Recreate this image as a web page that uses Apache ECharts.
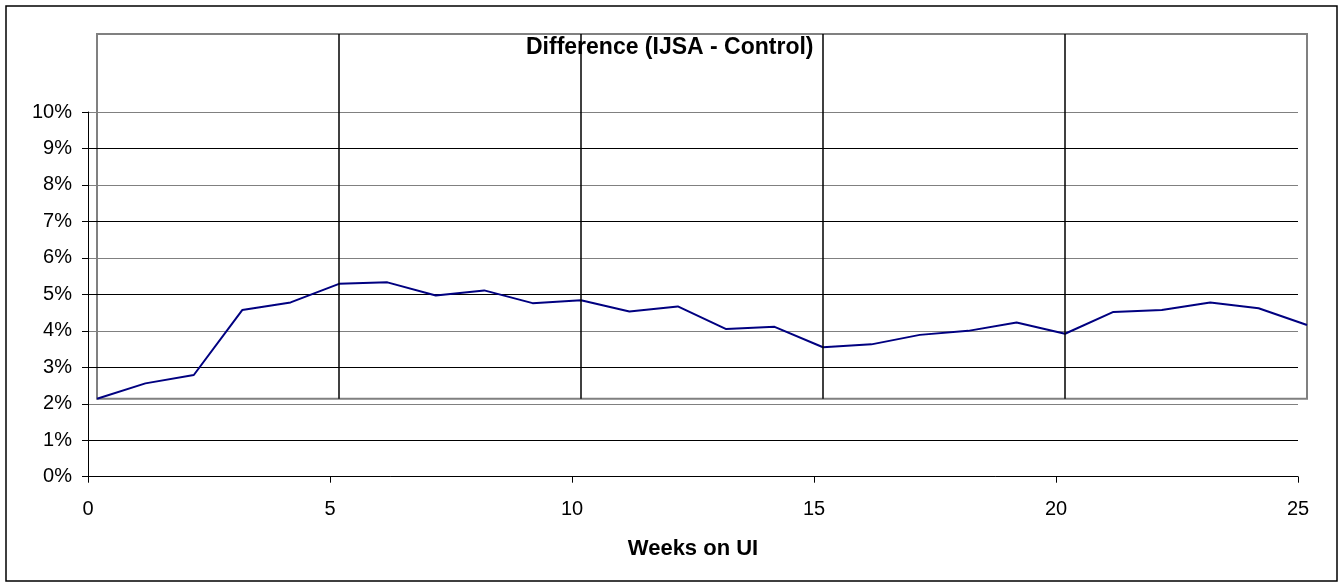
<!DOCTYPE html>
<html>
<head>
<meta charset="utf-8">
<script src="https://cdn.jsdelivr.net/npm/echarts@6/dist/echarts.min.js"></script>
<style>
  html, body { margin: 0; padding: 0; background: #fff; }
  #grafico { width: 1339px; height: 588px; }
</style>
</head>
<body>
<div id="grafico"></div>
<script>
// weeks on UI and the IJSA - Control difference (in %)
const semanas = [0,1,2,3,4,5,6,7,8,9,10,11,12,13,14,15,16,17,18,19,20,21,22,23,24,25];
const diferencia = [2.14,2.56,2.79,4.57,4.78,5.29,5.33,4.97,5.11,4.76,4.84,4.53,4.67,4.05,4.11,3.55,3.63,3.89,4.00,4.23,3.92,4.52,4.57,4.78,4.62,4.16];
const yTicks = [0,1,2,3,4,5,6,7,8,9,10];
const xTicks = [0,5,10,15,20,25];

const fuente = "'Liberation Sans', Arial, sans-serif";

var grafico = document.getElementById('grafico');
var myChart = echarts.init(grafico);

var options = {
  animation: false,
  title: {
    text: 'Difference (IJSA - Control)',
    left: 521,
    top: 31,
    z: 0,
    textStyle: { fontFamily: fuente, fontSize: 23, fontWeight: 'bold', color: '#000' }
  },
  graphic: [{
    type: 'rect',
    shape: { x: 6, y: 6, width: 1331, height: 575 },
    style: { fill: 'none', stroke: '#000', lineWidth: 1.5 },
    z: -10
  }],
  grid: [
    // main axes
    { left: 88, top: 112, width: 1210, height: 364.7, show: false },
    // secondary plot area (grey box)
    { left: 97, top: 34, width: 1210, height: 364.7, show: true,
      borderColor: '#808080', borderWidth: 2, backgroundColor: 'transparent' }
  ],
  xAxis: [
    {
      gridIndex: 0, type: 'value', min: 0, max: 25, interval: 5,
      axisLine: { lineStyle: { color: '#000', width: 1 } },
      axisTick: { show: true, length: 6, lineStyle: { color: '#000' } },
      axisLabel: { margin: 23, fontFamily: fuente, fontSize: 20, color: '#000',
        formatter: v => xTicks.includes(v) ? String(v) : '' },
      splitLine: { show: false },
      name: 'Weeks on UI', nameLocation: 'middle', nameGap: 61,
      nameTextStyle: { fontFamily: fuente, fontSize: 22, fontWeight: 'bold', color: '#000' }
    },
    {
      gridIndex: 1, type: 'value', min: 0, max: 25, interval: 5, z: 10,
      axisLine: { show: false }, axisTick: { show: false }, axisLabel: { show: false },
      splitLine: { show: true, showMinLine: false, showMaxLine: false,
        lineStyle: { color: '#000', width: 1.5 } }
    }
  ],
  yAxis: [
    {
      gridIndex: 0, type: 'value', min: 0, max: 10, interval: 1,
      axisLine: { show: true, lineStyle: { color: '#000', width: 1 } },
      axisTick: { show: true, length: 6, lineStyle: { color: '#000' } },
      axisLabel: { margin: 16, fontFamily: fuente, fontSize: 20, color: '#000',
        formatter: v => yTicks.includes(v) ? v + '%' : '' },
      splitLine: { show: true, lineStyle: { color: ['#808080', '#000'], width: 1.2 } }
    },
    {
      gridIndex: 1, type: 'value', min: 2.14, max: 12.14, show: false,
      splitLine: { show: false }
    }
  ],
  series: [{
    type: 'line',
    xAxisIndex: 1, yAxisIndex: 1,
    data: semanas.map((s, i) => [s, diferencia[i]]),
    showSymbol: false, symbol: 'none',
    clip: false, z: 5,
    lineStyle: { color: '#000080', width: 2 }
  }]
};
myChart.setOption(options);
</script>
</body>
</html>
